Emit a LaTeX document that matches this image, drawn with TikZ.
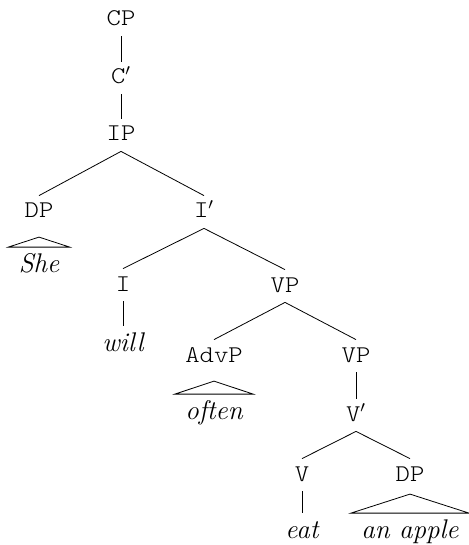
\documentclass[tikz,border=0pt]{standalone}
\usepackage{fontspec}
\usetikzlibrary{calc}

\newfontfamily\catfont{lmmonolt10-regular.otf}[FakeStretch=1.14]

\tikzset{
	cat/.style={font=\large\catfont, text height=8pt, text depth=2pt, inner sep=3pt},
	word/.style={font=\fontsize{13.5}{16}\selectfont\itshape, text height=9.5pt, text depth=2pt, inner sep=3pt},
	roofed/.style={word, inner xsep=5pt},
}

\begin{document}
\begin{tikzpicture}[x=0.5pt,y=-0.5pt]
	\useasboundingbox (0,0) rectangle (468,545);
	\node[cat] (CP) at (121,20) {CP};
	\node[cat] (C1) at (121,78) {C$'$};
	\node[cat] (IP) at (121,135) {IP};
	\node[cat] (DP) at (39,212) {DP};
	\node[cat] (I1) at (204,212) {I$'$};
	\node[roofed] (she) at (39,265) {She};
	\node[cat] (I) at (123,285) {I};
	\node[word] (will) at (123,344) {will};
	\node[cat] (VP) at (285,286) {VP};
	\node[cat] (AdvP) at (214,356) {AdvP};
	\node[roofed] (often) at (214,412) {often};
	\node[cat] (VP2) at (356,356) {VP};
	\node[cat] (V1) at (356,415) {V$'$};
	\node[cat] (V) at (302,475) {V};
	\node[word] (eat) at (302,531) {eat};
	\node[cat] (DP2) at (410,475) {DP};
	\node[roofed] (apple) at (410,531) {an apple};
	% branches
	\foreach \a/\b in {CP/C1, C1/IP, IP/DP, IP/I1, I1/I, I1/VP, I/will,
		VP/AdvP, VP/VP2, VP2/V1, V1/V, V1/DP2, V/eat}
		\draw (\a.south) -- (\b.north);
	% roofs
	\foreach \w/\h in {she/10, often/13, apple/19}
		\draw (\w.north west) -- (\w.north east) -- ($(\w.north)+(0,-\h)$) -- cycle;
\end{tikzpicture}
\end{document}
